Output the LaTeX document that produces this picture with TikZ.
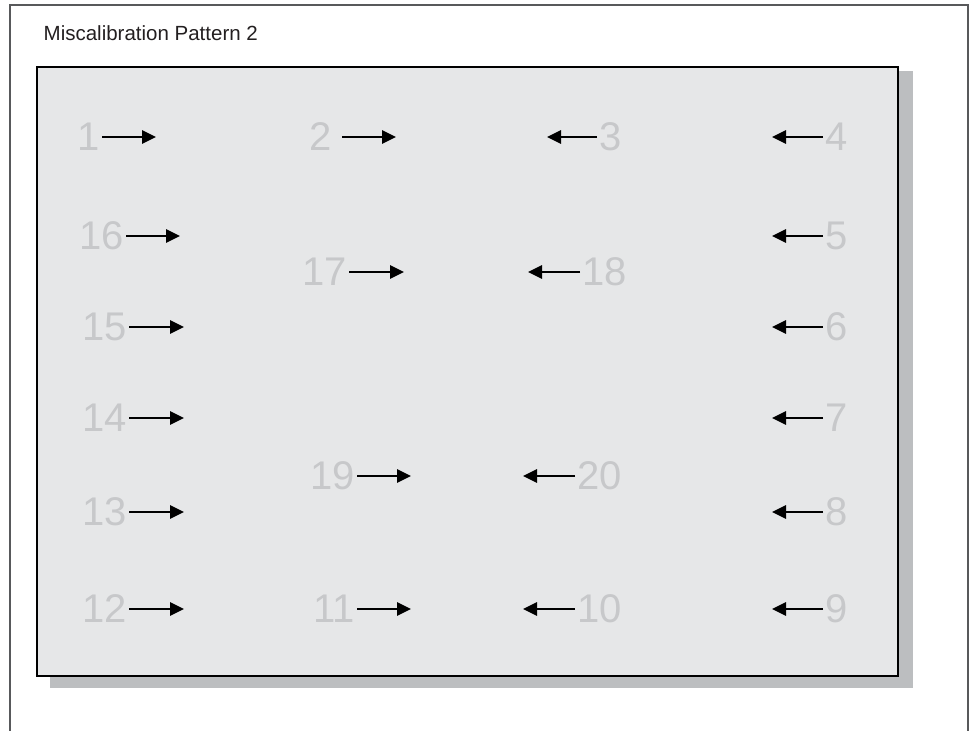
\documentclass[tikz,border=0pt]{standalone}
\usepackage{fontspec}
\setmainfont{Liberation Sans}
\usepackage{tikz}
\usetikzlibrary{arrows.meta, positioning, calc}
\usepackage{xcolor}

\definecolor{framegray}{HTML}{58595B}
\definecolor{panelgray}{HTML}{E6E7E8}
\definecolor{shadowgray}{HTML}{BCBEC0}
\definecolor{numgray}{HTML}{C7C8CA}
\definecolor{titleblack}{HTML}{231F20}

\tikzset{
  num/.style={inner xsep=2pt, inner ysep=0pt, text=numgray, font=\fontsize{40}{40}\selectfont},
  arr/.style={-{Triangle[length=14pt,width=13pt]}, line width=2.8pt, black}
}

\begin{document}
\begin{tikzpicture}[x=1pt, y=-1pt]
  \useasboundingbox (0,0) rectangle (975,731);
  % outer frame, open at the bottom
  \draw[framegray, line width=1.2pt] (10,731) -- (10,5) -- (968,5) -- (968,731);
  \node[anchor=base west, inner sep=0pt, text=titleblack, font=\fontsize{20.5}{24}\selectfont] (title) at (43.5,40) {Miscalibration Pattern 2};
  % panel with shadow
  \fill[shadowgray] (50,71) rectangle (913,688);
  \draw[black, line width=1.2pt, fill=panelgray] (37,67) rectangle (898,676);

  % left column
  \node[num, anchor=east] (n1) at (102,137) {1};
  \coordinate (t1) at (156,137);
  \draw[arr] (n1) -- (t1);
  \node[num, anchor=east] (n16) at (126,236) {16};
  \coordinate (t16) at (180,236);
  \draw[arr] (n16) -- (t16);
  \node[num, anchor=east] (n15) at (129,327) {15};
  \coordinate (t15) at (184,327);
  \draw[arr] (n15) -- (t15);
  \node[num, anchor=east] (n14) at (129,418) {14};
  \coordinate (t14) at (184,418);
  \draw[arr] (n14) -- (t14);
  \node[num, anchor=east] (n13) at (129,512) {13};
  \coordinate (t13) at (184,512);
  \draw[arr] (n13) -- (t13);
  \node[num, anchor=east] (n12) at (129,609) {12};
  \coordinate (t12) at (184,609);
  \draw[arr] (n12) -- (t12);

  % middle, pointing right
  \node[num, anchor=east] (n2) at (334,137) {2};
  \coordinate (t2) at (396,137);
  \draw[arr, shorten <=8pt] (n2) -- (t2);
  \node[num, anchor=east] (n17) at (349,272) {17};
  \coordinate (t17) at (404,272);
  \draw[arr] (n17) -- (t17);
  \node[num, anchor=east] (n19) at (357,476) {19};
  \coordinate (t19) at (411,476);
  \draw[arr] (n19) -- (t19);
  \node[num, anchor=east] (n11) at (357,609) {11};
  \coordinate (t11) at (411,609);
  \draw[arr] (n11) -- (t11);

  % middle, pointing left
  \node[num, anchor=west] (n3) at (597,137) {3};
  \coordinate (t3) at (547,137);
  \draw[arr] (n3) -- (t3);
  \node[num, anchor=west] (n18) at (580,272) {18};
  \coordinate (t18) at (528,272);
  \draw[arr] (n18) -- (t18);
  \node[num, anchor=west] (n20) at (575,476) {20};
  \coordinate (t20) at (523,476);
  \draw[arr] (n20) -- (t20);
  \node[num, anchor=west] (n10) at (575,609) {10};
  \coordinate (t10) at (523,609);
  \draw[arr] (n10) -- (t10);

  % right column
  \node[num, anchor=west] (n4) at (823,137) {4};
  \coordinate (t4) at (772,137);
  \draw[arr] (n4) -- (t4);
  \node[num, anchor=west] (n5) at (823,236) {5};
  \coordinate (t5) at (772,236);
  \draw[arr] (n5) -- (t5);
  \node[num, anchor=west] (n6) at (823,327) {6};
  \coordinate (t6) at (772,327);
  \draw[arr] (n6) -- (t6);
  \node[num, anchor=west] (n7) at (823,418) {7};
  \coordinate (t7) at (772,418);
  \draw[arr] (n7) -- (t7);
  \node[num, anchor=west] (n8) at (823,512) {8};
  \coordinate (t8) at (772,512);
  \draw[arr] (n8) -- (t8);
  \node[num, anchor=west] (n9) at (823,609) {9};
  \coordinate (t9) at (772,609);
  \draw[arr] (n9) -- (t9);
\end{tikzpicture}
\end{document}
